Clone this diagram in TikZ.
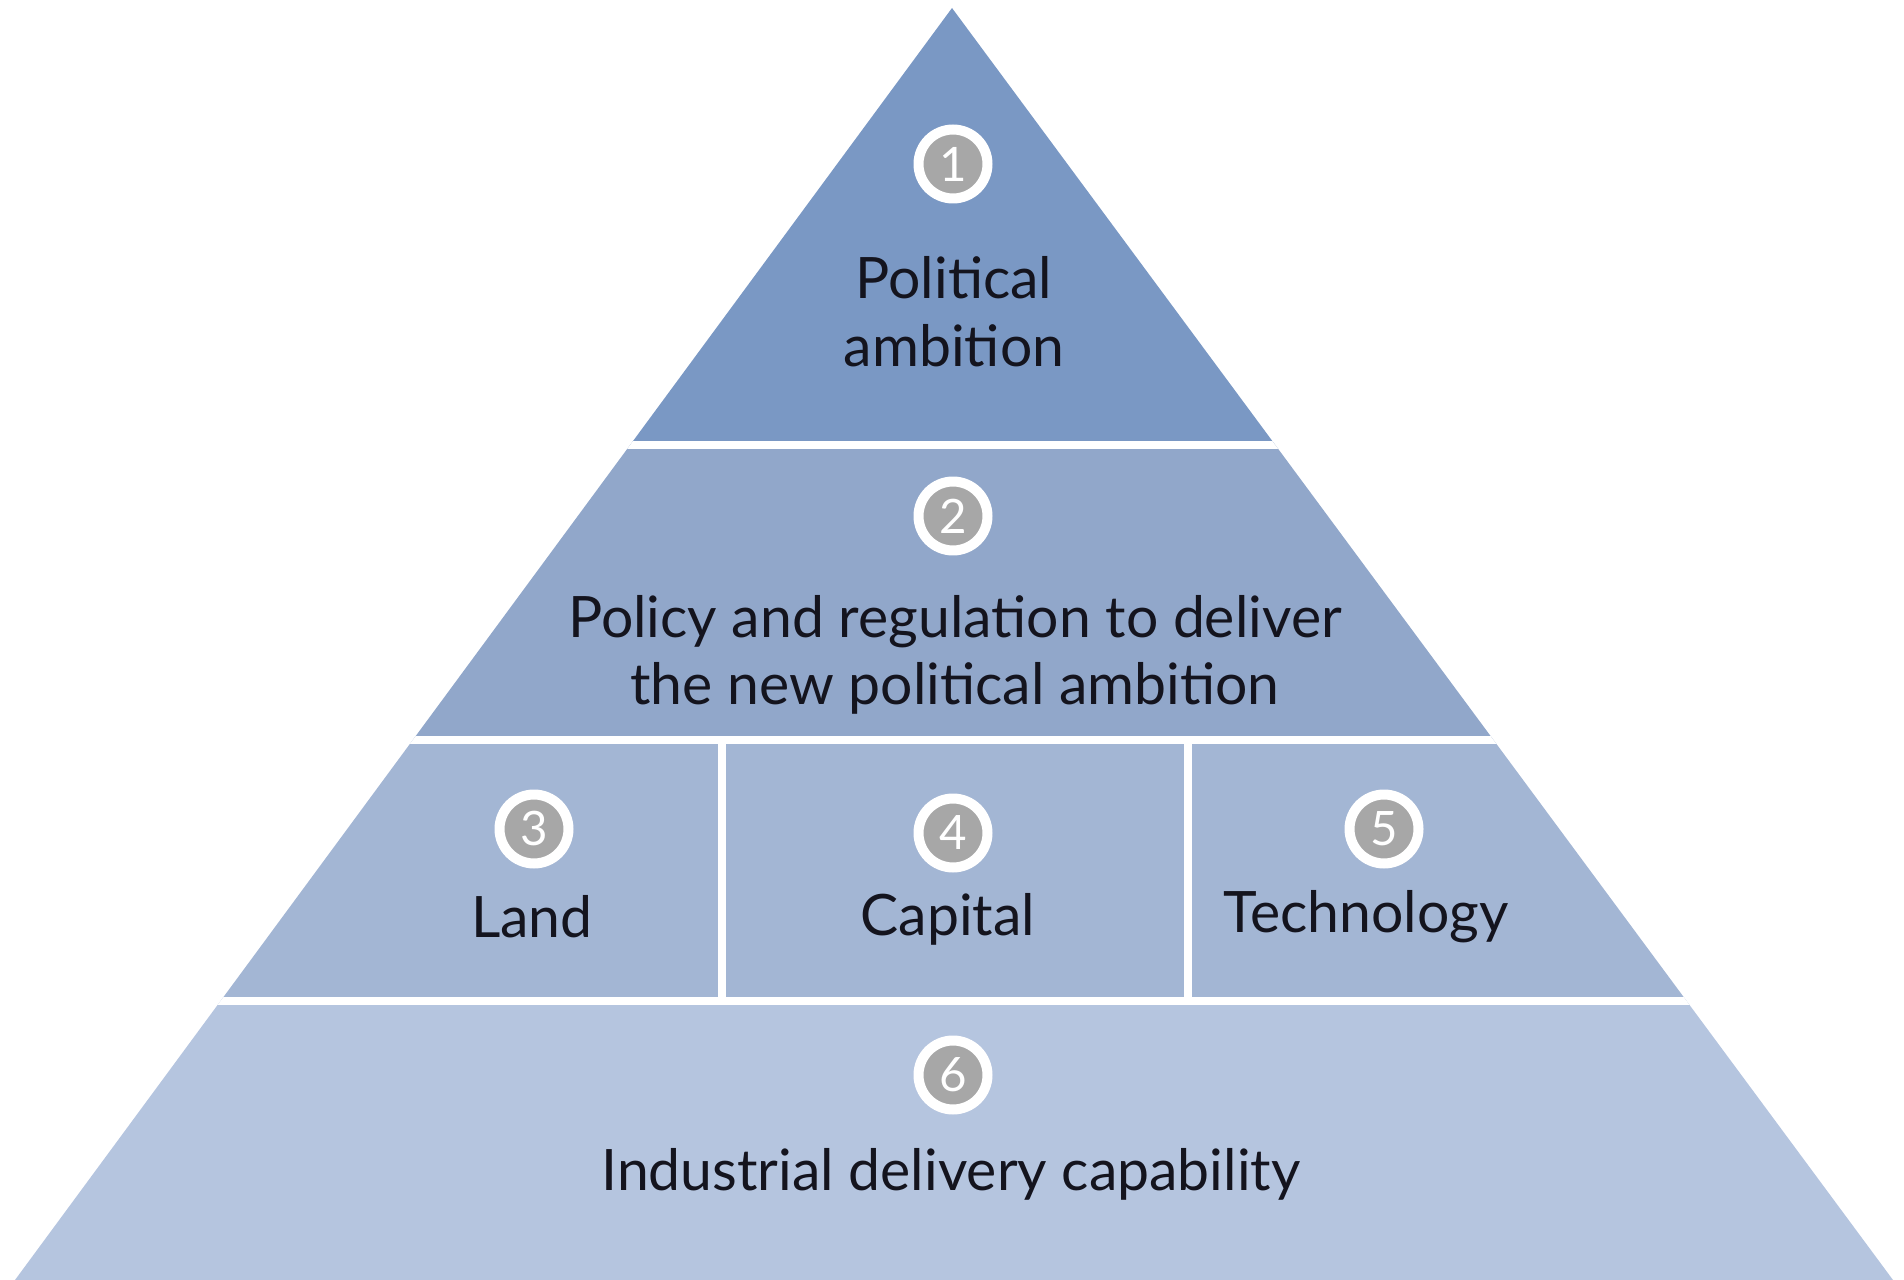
\documentclass[tikz,border=0pt]{standalone}
\usepackage{fontspec}
\setmainfont{Lato}
\usetikzlibrary{shadows}
\definecolor{tierA}{HTML}{7A98C4}
\definecolor{tierB}{HTML}{91A7CA}
\definecolor{tierC}{HTML}{A3B6D4}
\definecolor{tierD}{HTML}{B5C5DF}
\definecolor{numgray}{HTML}{A7A7A7}
\definecolor{txt}{HTML}{14141E}
\tikzset{
  sepline/.style={white, line width=0.15cm},
  numc/.style={circle, fill=numgray, draw=white, line width=0.2cm, minimum size=1.38cm, inner sep=0pt,
    text=white, font=\fontsize{27}{27}\selectfont,
    drop shadow={opacity=0.35, shadow xshift=0.05cm, shadow yshift=-0.07cm}},
  lbl/.style={text=txt, align=center, font=\fontsize{32.5}{38.5}\selectfont, inner sep=0pt}
}
\begin{document}
\begin{tikzpicture}[x=0.02cm,y=-0.02cm]
\useasboundingbox (0,0) rectangle (1904,1280);
\begin{scope}
  \clip (952,8) -- (15,1280) -- (1893,1280) -- cycle;
  \fill[tierA] (0,0) rectangle (1904,445);
  \fill[tierB] (0,445) rectangle (1904,740);
  \fill[tierC] (0,740) rectangle (1904,1001);
  \fill[tierD] (0,1001) rectangle (1904,1285);
  \draw[sepline] (0,445) -- (1904,445);
  \draw[sepline] (0,740) -- (1904,740);
  \draw[sepline] (0,1001) -- (1904,1001);
  \draw[sepline] (722,740) -- (722,1001);
  \draw[sepline] (1188,740) -- (1188,1001);
\end{scope}
\node[numc] (n1) at (953,164) {1};
\node[numc] (n2) at (953,516) {2};
\node[numc] (n3) at (534,829) {3};
\node[numc] (n4) at (953,833) {4};
\node[numc] (n5) at (1384,829) {5};
\node[numc] (n6) at (953,1075) {6};
\node[lbl] (l1) at (954,312) {Political\\ambition};
\node[lbl] (l2) at (955,655) {Policy and regulation to deliver\\the new political ambition};
\node[lbl] (l3) at (532,917) {Land};
\node[lbl] (l4) at (948,919) {Capital};
\node[lbl] (l5) at (1366,917) {Technology};
\node[lbl] (l6) at (951,1174) {Industrial delivery capability};
\end{tikzpicture}
\end{document}
